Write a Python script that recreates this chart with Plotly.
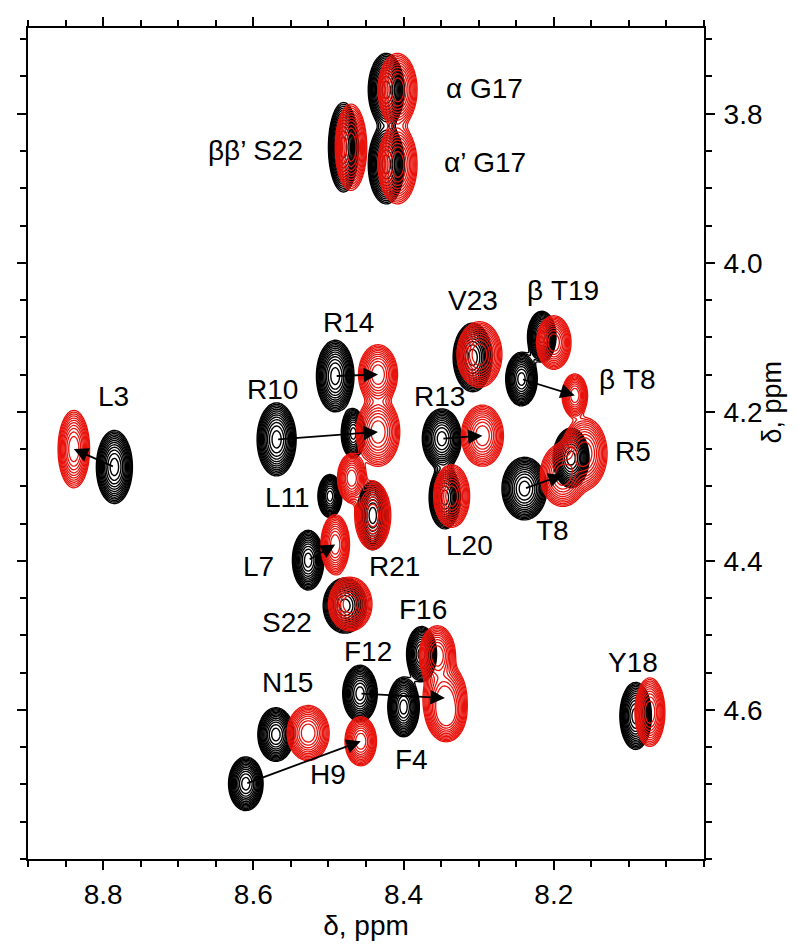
import numpy as np
import plotly.graph_objects as go

# ---------------- data (ppm) ----------------
residues = ["αG17", "α'G17", "ββ'S22", "L3", "R10", "R14", "L11", "R21", "L7", "S22",
            "F12", "F16", "F4", "N15", "H9", "Y18", "V23", "βT19", "βT8", "R13",
            "L20", "R5", "T8", "x"]
black_x = [8.423, 8.423, 8.480, 8.785, 8.569, 8.491, 8.498, 8.441, 8.527, 8.478,
           8.458, 8.376, 8.400, 8.570, 8.610, 8.091, 8.308, 8.216, 8.243, 8.349,
           8.345, 8.177, 8.239, 8.467]
black_y = [3.768, 3.868, 3.845, 4.274, 4.237, 4.152, 4.313, 4.339, 4.399, 4.460,
           4.578, 4.525, 4.596, 4.633, 4.699, 4.608, 4.127, 4.099, 4.156, 4.236,
           4.315, 4.262, 4.303, 4.229]
black_wx = [0.024, 0.024, 0.020, 0.024, 0.026, 0.025, 0.016, 0.021, 0.021, 0.029,
            0.023, 0.020, 0.021, 0.024, 0.023, 0.021, 0.026, 0.019, 0.021, 0.026,
            0.021, 0.024, 0.030, 0.016]
black_wy = [0.049, 0.053, 0.060, 0.049, 0.049, 0.048, 0.029, 0.046, 0.040, 0.037,
            0.038, 0.037, 0.040, 0.036, 0.036, 0.045, 0.046, 0.034, 0.036, 0.040,
            0.042, 0.040, 0.042, 0.033]

red_x = [8.408, 8.408, 8.470, 8.839, 8.434, 8.434, 8.469, 8.441, 8.491, 8.471,
         8.345, 8.355, 8.343, 8.527, 8.457, 8.072, 8.299, 8.200, 8.172, 8.295,
         8.336, 8.159, 8.188, None]
red_y = [3.768, 3.868, 3.845, 4.250, 4.227, 4.150, 4.289, 4.339, 4.378, 4.458,
         4.584, 4.527, 4.607, 4.631, 4.642, 4.603, 4.123, 4.107, 4.178, 4.232,
         4.313, 4.256, 4.285, None]
red_wx = [0.026, 0.026, 0.021, 0.021, 0.029, 0.026, 0.019, 0.024, 0.019, 0.029,
          0.029, 0.024, 0.025, 0.028, 0.021, 0.020, 0.030, 0.023, 0.017, 0.028,
          0.024, 0.030, 0.030, None]
red_wy = [0.049, 0.053, 0.058, 0.052, 0.046, 0.040, 0.033, 0.046, 0.040, 0.036,
          0.046, 0.040, 0.035, 0.037, 0.033, 0.046, 0.044, 0.036, 0.029, 0.041,
          0.042, 0.048, 0.042, None]

arrow_residues = ["L3", "R10", "R14", "R13", "βT8", "T8", "L7", "F12", "H9"]

label_text = ["α G17", "α’ G17", "ββ’ S22", "L3", "R10", "R14", "L11", "L7", "R21",
              "S22", "F16", "F12", "N15", "F4", "H9", "Y18", "V23", "β T19",
              "β T8", "R13", "R5", "T8", "L20"]
label_x = [8.292, 8.292, 8.597, 8.786, 8.574, 8.473, 8.555, 8.593, 8.412,
           8.555, 8.374, 8.447, 8.555, 8.389, 8.500, 8.094, 8.308, 8.188,
           8.102, 8.352, 8.094, 8.202, 8.312]
label_y = [3.766, 3.865, 3.849, 4.180, 4.170, 4.080, 4.315, 4.408, 4.408,
           4.483, 4.465, 4.522, 4.563, 4.666, 4.686, 4.536, 4.050, 4.037,
           4.156, 4.180, 4.253, 4.359, 4.379]

x_tick_vals = [8.8, 8.6, 8.4, 8.2]
x_tick_text = ["8.8", "8.6", "8.4", "8.2"]
y_tick_vals = [3.8, 4.0, 4.2, 4.4, 4.6]
y_tick_text = ["3.8", "4.0", "4.2", "4.4", "4.6"]

X_RANGE = [8.9, 8.0]
Y_RANGE = [4.80, 3.685]

# ---------------- synthetic 2D spectrum from peak list ----------------
LOW = 0.04
K = np.sqrt(2 * np.log(1 / LOW))
xg = np.linspace(8.0, 8.9, 460)
yg = np.linspace(3.685, 4.80, 580)
XX, YY = np.meshgrid(xg, yg)


def spectrum(xs, ys, wxs, wys):
    I = np.zeros_like(XX)
    for x0, y0, wx, wy in zip(xs, ys, wxs, wys):
        if x0 is None:
            continue
        sx, sy = wx / K, wy / K
        I += np.exp(-0.5 * ((XX - x0) / sx) ** 2 - 0.5 * ((YY - y0) / sy) ** 2)
    return np.log10(I + 1e-6).astype(np.float32)


z_black = spectrum(black_x, black_y, black_wx, black_wy)
z_red = spectrum(red_x, red_y, red_wx, red_wy)

levels_black = dict(start=np.log10(LOW), end=-0.03, size=0.11, coloring="lines")
levels_red = dict(start=np.log10(LOW), end=-0.03, size=0.125, coloring="lines")

fig = go.Figure()
fig.add_trace(go.Contour(x=xg, y=yg, z=z_black, autocontour=False, contours=levels_black,
                         colorscale=[[0, "black"], [1, "black"]], showscale=False,
                         line=dict(width=1.4, smoothing=1), hoverinfo="skip"))
fig.add_trace(go.Contour(x=xg, y=yg, z=z_red, autocontour=False, contours=levels_red,
                         colorscale=[[0, "#e8130c"], [1, "#e8130c"]], showscale=False,
                         line=dict(width=1.3, smoothing=1), hoverinfo="skip"))

# arrows black -> red
for r in arrow_residues:
    i = residues.index(r)
    fig.add_annotation(x=red_x[i], y=red_y[i], ax=black_x[i], ay=black_y[i],
                       xref="x", yref="y", axref="x", ayref="y", text="",
                       showarrow=True, arrowhead=2, arrowsize=1.6, arrowwidth=1.8,
                       arrowcolor="black", standoff=0)

FONT = "Liberation Sans, Arial, sans-serif"
for t, x, y in zip(label_text, label_x, label_y):
    fig.add_annotation(x=x, y=y, xref="x", yref="y", text=t, showarrow=False,
                       font=dict(family=FONT, size=28, color="black"))

# right-hand axis title
fig.add_annotation(x=1.1, y=0.55, xref="paper", yref="paper", text="δ, ppm",
                   textangle=-90, showarrow=False, xanchor="center", yanchor="middle",
                   borderpad=0,
                   font=dict(family=FONT, size=27, color="black"))

axis_common = dict(showline=True, linewidth=2, linecolor="black", mirror="ticks",
                   ticks="outside", ticklen=9, tickwidth=2, tickcolor="black",
                   showgrid=False, zeroline=False,
                   tickfont=dict(family=FONT, size=28, color="black"))

fig.update_xaxes(range=X_RANGE, tickmode="array", tickvals=x_tick_vals,
                 ticktext=x_tick_text,
                 minor=dict(tickmode="array",
                            tickvals=[round(8.0 + 0.05 * k, 2) for k in range(19)],
                            ticks="outside", ticklen=6, tickwidth=1.5, tickcolor="black"),
                 title=dict(text="δ, ppm", font=dict(family=FONT, size=28, color="black"),
                            standoff=2),
                 **axis_common)
fig.update_yaxes(range=Y_RANGE, side="right", tickmode="array", tickvals=y_tick_vals,
                 ticktext=y_tick_text, ticklabelstandoff=3,
                 minor=dict(tickmode="array",
                            tickvals=[round(3.70 + 0.05 * k, 2) for k in range(23)],
                            ticks="outside", ticklen=6, tickwidth=1.5, tickcolor="black"),
                 **axis_common)

fig.update_layout(width=798, height=944, margin=dict(l=16, r=102, t=9, b=93),
                  plot_bgcolor="white", paper_bgcolor="white", showlegend=False)

fig.write_html("out.html")
